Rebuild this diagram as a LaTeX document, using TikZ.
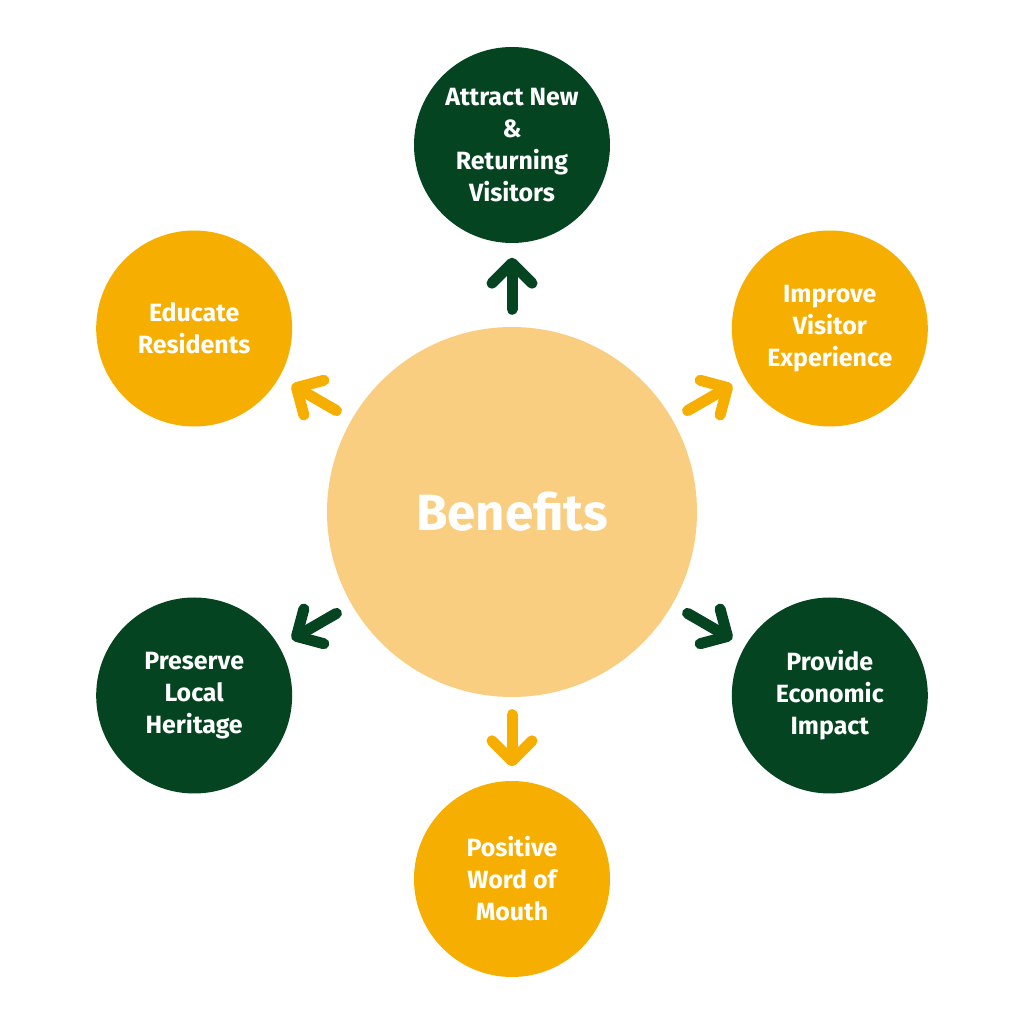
\documentclass[tikz,border=0pt]{standalone}
\usepackage{fontspec}
\setmainfont{Fira Sans}
\usetikzlibrary{arrows.meta}
\definecolor{darkgreen}{RGB}{4,68,32}
\definecolor{gold}{RGB}{246,174,0}
\definecolor{paleGold}{RGB}{250,206,128}
\begin{document}
\begin{tikzpicture}[
    hub/.style={circle, fill=paleGold, minimum size=3.7cm, inner sep=0pt, text=white,
      font=\fontsize{14.5}{17}\selectfont\bfseries},
    spoke/.style={circle, fill=#1, minimum size=1.96cm, inner sep=0pt, text=white,
      align=center, font=\fontsize{7.1}{9.1}\selectfont\bfseries},
    arr/.style={#1, line width=1.1mm, line cap=round,
      -{Straight Barb[round, length=2mm, width=4mm]},
      shorten <=1.7mm, shorten >=1.4mm}]
    \useasboundingbox (0,0) rectangle (10.24,10.24);

    % Centre
    \node[hub] (hub) at (5.12,5.12) {Benefits};

    % Benefits around the centre
    \node[spoke=darkgreen] (visitors) at ([shift={(90:3.67)}]hub.center) {Attract New\\\&\\Returning\\Visitors};
    \node[spoke=gold] (experience) at ([shift={(30:3.67)}]hub.center) {Improve\\Visitor\\Experience};
    \node[spoke=darkgreen] (economic) at ([shift={(-30:3.67)}]hub.center) {Provide\\Economic\\Impact};
    \node[spoke=gold] (mouth) at ([shift={(-90:3.67)}]hub.center) {Positive\\Word of\\Mouth};
    \node[spoke=darkgreen] (heritage) at ([shift={(-150:3.67)}]hub.center) {Preserve\\Local\\Heritage};
    \node[spoke=gold] (residents) at ([shift={(150:3.67)}]hub.center) {Educate\\Residents};

    % Arrows out of the centre
    \foreach \target/\col in {visitors/darkgreen, experience/gold, economic/darkgreen,
        mouth/gold, heritage/darkgreen, residents/gold} {
      \draw[arr=\col] (hub) -- (\target);
    }
\end{tikzpicture}
\end{document}
